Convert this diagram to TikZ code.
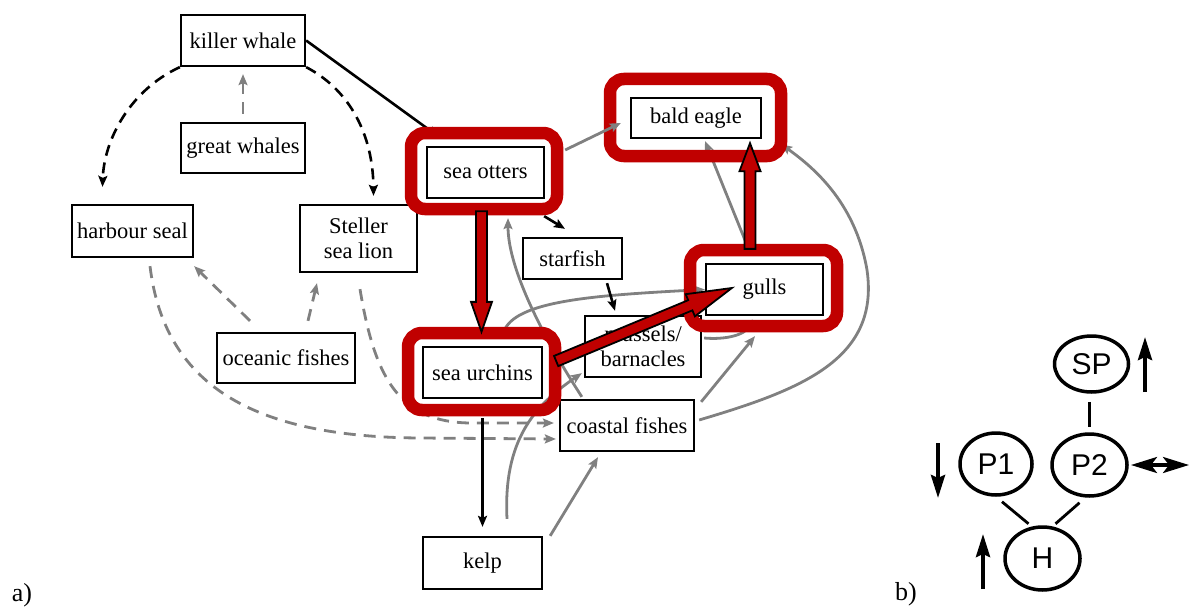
\documentclass[tikz,border=0pt]{standalone}
\usepackage{fontspec}
\setmainfont{Liberation Serif}
\newfontfamily\arialfont{Liberation Sans}
\usetikzlibrary{arrows.meta,calc,shapes.geometric}
\definecolor{hlred}{RGB}{192,0,0}
\definecolor{lgray}{RGB}{128,128,128}
\newcommand\redarrow[5]{%
  \filldraw[redarr] let \p1=(#1), \p2=(#2), \n1={atan2(\y2-\y1,\x2-\x1)}, \n2={veclen(\x2-\x1,\y2-\y1)} in
  ($(\p1)+(\n1+90:#3)$) -- ($(\p1)+(\n1:\n2-#5)+(\n1+90:#3)$) -- ($(\p1)+(\n1:\n2-#5)+(\n1+90:#4)$) -- (\p2) -- ($(\p1)+(\n1:\n2-#5)+(\n1-90:#4)$) -- ($(\p1)+(\n1:\n2-#5)+(\n1-90:#3)$) -- ($(\p1)+(\n1-90:#3)$) -- cycle;}
\begin{document}
\begin{tikzpicture}[x=1pt,y=-1pt,
  box/.style={draw=black, line width=2.3pt, fill=white, inner sep=0pt, align=center, font=\fontsize{22.5}{25}\selectfont},
  hl/.style={draw=hlred, line width=12.5pt, rounded corners=14pt, inner sep=0pt},
  gline/.style={draw=lgray, line width=2.8pt},
  garr/.style={gline, -{Stealth[length=11pt,width=9pt,inset=2pt]}},
  gdash/.style={garr, dash pattern=on 12pt off 8pt},
  barr/.style={draw=black, line width=2.6pt, -{Stealth[length=11pt,width=9pt,inset=2pt]}},
  bdash/.style={barr, dash pattern=on 11pt off 7pt},
  redarr/.style={fill=hlred, draw=black, line width=1.8pt, line join=miter},
  circ/.style={ellipse, draw=black, line width=3.5pt, inner sep=0pt, font=\arialfont\fontsize{30}{30}\selectfont},
  ind/.style={draw=black, line width=3.8pt, -{Stealth[length=23pt,width=14pt,inset=3pt]}},
  dind/.style={draw=black, line width=3.5pt, {Stealth[length=26pt,width=16pt,inset=6pt]}-{Stealth[length=26pt,width=16pt,inset=6pt]}},
  lab/.style={font=\fontsize{26}{26}\selectfont, inner sep=0pt}
]
\useasboundingbox (0,0) rectangle (1190,607);

% ---- boxes (part a)
\node[box, minimum width=124pt, minimum height=51pt] (kw) at (243,40.5) {killer whale};
\node[box, minimum width=124pt, minimum height=50pt] (gw) at (243,148) {great whales};
\node[box, minimum width=121pt, minimum height=52pt] (hs) at (132.5,231) {harbour seal};
\node[box, minimum width=117pt, minimum height=67pt] (ssl) at (358.5,238.5) {Steller\\sea lion};
\node[box, minimum width=117pt, minimum height=51pt] (so) at (485.5,172.5) {sea otters};
\node[box, minimum width=130pt, minimum height=40pt] (be) at (696,118) {bald eagle};
\node[box, minimum width=99pt, minimum height=41pt] (sf) at (572.5,258.5) {starfish};
\node[box, minimum width=117pt, minimum height=51pt] (gu) at (764.5,289.5) {gulls};
\node[box, minimum width=116pt, minimum height=61pt] (mb) at (643,346.5) {mussels/\\barnacles};
\node[box, minimum width=138pt, minimum height=50pt] (of) at (286,358) {oceanic fishes};
\node[box, minimum width=119pt, minimum height=51pt] (su) at (482.5,372.5) {sea urchins};
\node[box, minimum width=134pt, minimum height=51pt] (cf) at (627,425.5) {coastal fishes};
\node[box, minimum width=119pt, minimum height=52pt] (kp) at (482.5,563) {kelp};

% ---- gray connectors
\draw[gdash] ([shift={(0,-8)}]gw.north) -- ([shift={(0,7)}]kw.south);
\draw[gdash] ([shift={(-36,-11)}]of.north) -- ([shift={(0,8)}]hs.south east);
\draw[gdash] ([shift={(22,-11)}]of.north) -- ([shift={(-41.5,10)}]ssl.south);
\draw[gdash] ([shift={(17.5,8)}]hs.south) .. controls (165,390) and (260,437) .. (420,438) -- ([shift={(-3,13.5)}]cf.west);
\draw[gdash] ([shift={(1.5,16)}]ssl.south) .. controls (375,380) and (400,422) .. (470,423) -- ([shift={(-5,-2.5)}]cf.west);
\draw[garr] ([shift={(7,0)}]kp.north east) -- ([shift={(-29,5)}]cf.south);
\draw[garr] ([shift={(24.5,-17)}]kp.north) .. controls (503,440) and (535,405) .. ([shift={(-2,-5)}]mb.south west);
\draw[garr] ([shift={(23,-2)}]cf.north west) .. controls (545,340) and (508,270) .. ([shift={(22.5,19)}]so.south);
\draw[garr] ([shift={(22.5,-17)}]su.north) .. controls (520,300) and (600,295) .. (gu.west);
\draw[garr] ([shift={(2,-8.5)}]mb.east) .. controls (725,340) and (745,335) .. ([shift={(-12,3)}]gu.south);
\draw[garr] ([shift={(6,3)}]cf.north east) -- ([shift={(-9.5,20)}]gu.south);
\draw[garr] ([shift={(4,-5.5)}]cf.east) .. controls (800,390) and (880,360) .. (867,270) .. controls (855,200) and (810,165) .. ([shift={(19,5)}]be.south east);
\draw[garr] ([shift={(-16,-14)}]gu.north) -- ([shift={(9,2)}]be.south);

% ---- black connectors
\draw[bdash] (kw.south west) .. controls (130,90) and (104,140) .. ([shift={(-30,-17)}]hs.north);
\draw[bdash] (kw.south east) .. controls (350,90) and (373,135) .. ([shift={(15,-8)}]ssl.north);
\draw[barr] (kw.east) -- ([shift={(13,-9)}]so.north west);
\draw[barr] ([shift={(-1,17)}]so.south east) -- ([shift={(-7.5,-8)}]sf.north);
\draw[barr] ([shift={(34.5,3)}]sf.south) -- ([shift={(-28,-4)}]mb.north);
\draw[barr] ([shift={(0,19)}]su.south) -- ([shift={(0,-9)}]kp.north);

% ---- red highlights
\node[hl, minimum width=146pt, minimum height=76pt] (soH) at (484,171) {};
\node[hl, minimum width=171pt, minimum height=77pt] (beH) at (695.5,117.5) {};
\node[hl, minimum width=147pt, minimum height=76pt] (guH) at (763.5,288) {};
\node[hl, minimum width=147pt, minimum height=77pt] (suH) at (481.5,371.5) {};

\draw[garr] ([shift={(20,-22.5)}]so.east) -- ([shift={(-9,5)}]be.west);

% ---- red arrows
\redarrow{[shift={(-4,12)}]so.south}{[shift={(-1,-14)}]su.north}{5.5pt}{10.5pt}{30pt}
\redarrow{[shift={(13,-11.5)}]su.east}{[shift={(27,-1.5)}]gu.west}{5.5pt}{12pt}{45pt}
\redarrow{[shift={(-14.5,-14)}]gu.north}{[shift={(54,4)}]be.south}{5.5pt}{10.5pt}{28pt}

% ---- part b
\node[circ, minimum width=74pt, minimum height=56pt] (SP) at (1091.5,364) {SP};
\node[circ, minimum width=72pt, minimum height=62pt] (P1) at (996,464) {P1};
\node[circ, minimum width=75pt, minimum height=62pt] (P2) at (1089.5,465) {P2};
\node[circ, minimum width=75pt, minimum height=63pt] (H) at (1042.5,558.5) {H};
\draw[line width=3.5pt] ([shift={(-2,8)}]SP.south) -- ([shift={(0,-5)}]P2.north);
\draw[line width=2.8pt] ([shift={(6,5)}]P1.south) -- ([shift={(-14,-1.5)}]H.north);
\draw[line width=2.8pt] ([shift={(-10,5)}]P2.south) -- ([shift={(13,-1.5)}]H.north);

\coordinate (sp1) at (1145,392); \coordinate (sp2) at (1145,337);
\coordinate (p11) at (938,443); \coordinate (p12) at (938,498);
\coordinate (h1) at (983,589); \coordinate (h2) at (983,534);
\coordinate (p21) at (1131,465); \coordinate (p22) at (1189,465);
\draw[ind] (sp1) -- (sp2);
\draw[ind] (p11) -- (p12);
\draw[ind] (h1) -- (h2);
\draw[dind] (p21) -- (p22);

\node[lab] (la) at (22,595) {a)};
\node[lab] (lb) at (906,594) {b)};
\end{tikzpicture}
\end{document}
